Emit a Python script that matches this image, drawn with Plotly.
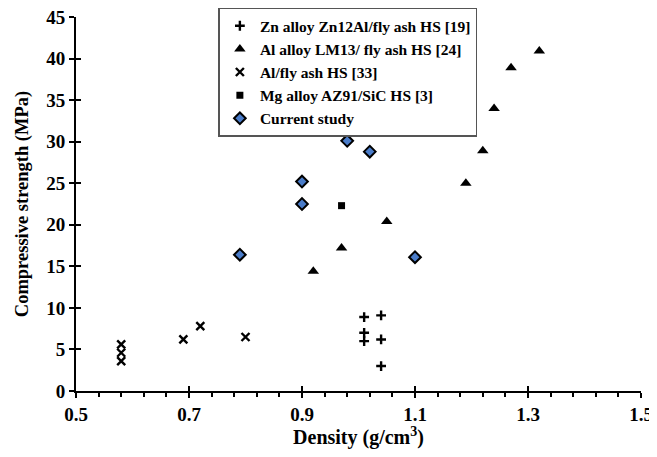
import plotly.graph_objects as go

zn_x = [1.01, 1.01, 1.01, 1.04, 1.04, 1.04]
zn_y = [8.9, 7.0, 6.0, 9.1, 6.2, 3.0]
al13_x = [0.92, 0.97, 1.05, 1.19, 1.22, 1.24, 1.27, 1.32]
al13_y = [14.4, 17.2, 20.4, 25.0, 28.9, 34.0, 38.9, 40.9]
alfa_x = [0.58, 0.58, 0.58, 0.69, 0.72, 0.80]
alfa_y = [5.6, 4.6, 3.6, 6.2, 7.8, 6.5]
mg_x = [0.97]
mg_y = [22.3]
cur_x = [0.79, 0.90, 0.90, 0.98, 1.02, 1.10]
cur_y = [16.4, 25.2, 22.5, 30.1, 28.8, 16.1]

names = ["Zn alloy Zn12Al/fly ash HS [19]", "Al alloy LM13/ fly ash HS [24]",
         "Al/fly ash HS [33]", "Mg alloy AZ91/SiC HS [3]", "Current study"]

FONT = "Liberation Serif"
fig = go.Figure()
fig.add_trace(go.Scatter(x=zn_x, y=zn_y, mode="markers", name="<b>" + names[0] + "</b>",
                         marker=dict(symbol="cross-thin", size=7, line=dict(width=2.4, color="black"), color="black")))
fig.add_trace(go.Scatter(x=al13_x, y=al13_y, mode="markers", name="<b>" + names[1] + "</b>",
                         marker=dict(symbol="triangle-up", size=10, color="black")))
fig.add_trace(go.Scatter(x=alfa_x, y=alfa_y, mode="markers", name="<b>" + names[2] + "</b>",
                         marker=dict(symbol="x-thin", size=8, line=dict(width=2.4, color="black"), color="black")))
fig.add_trace(go.Scatter(x=mg_x, y=mg_y, mode="markers", name="<b>" + names[3] + "</b>",
                         marker=dict(symbol="square", size=7, color="black")))
fig.add_trace(go.Scatter(x=cur_x, y=cur_y, mode="markers", name="<b>" + names[4] + "</b>",
                         marker=dict(symbol="diamond", size=9, color="#4a7cc9", line=dict(width=2, color="black"))))

axfont = dict(family=FONT, size=19, color="black")
fig.update_layout(
    width=649, height=441,
    margin=dict(l=68, r=16, t=9, b=58, autoexpand=False),
    paper_bgcolor="white", plot_bgcolor="white",
    font=dict(family=FONT, color="black"),
    showlegend=True,
    legend=dict(x=0.252, y=1.025, xanchor="left", yanchor="top",
                bordercolor="#555555", borderwidth=1.5, bgcolor="white",
                font=dict(family=FONT, size=15.5, color="black"),
                tracegroupgap=0, itemwidth=30),
    xaxis=dict(range=[0.5, 1.5], tickvals=[0.5, 0.7, 0.9, 1.1, 1.3, 1.5],
               ticktext=["<b>0.5</b>", "<b>0.7</b>", "<b>0.9</b>", "<b>1.1</b>", "<b>1.3</b>", "<b>1.5</b>"],
               ticks="outside", ticklen=5, tickwidth=2, tickcolor="black", ticklabeloverflow="allow",
               minor=dict(dtick=0.04, tick0=0.5, ticks="outside", ticklen=4, tickwidth=1.5, tickcolor="black"),
               showline=True, linecolor="black", linewidth=2, showgrid=False, zeroline=False,
               tickfont=axfont,
               title=dict(text="<b>Density (g/cm<sup>3</sup>)</b>", font=dict(family=FONT, size=20, color="black"), standoff=4)),
    yaxis=dict(range=[0, 45], tickvals=[0, 5, 10, 15, 20, 25, 30, 35, 40, 45],
               ticktext=["<b>%d</b>" % v for v in [0, 5, 10, 15, 20, 25, 30, 35, 40, 45]],
               ticks="outside", ticklen=5, tickwidth=2, tickcolor="black", ticklabeloverflow="allow",
               showline=True, linecolor="black", linewidth=2, showgrid=False, zeroline=False,
               tickfont=axfont,
               title=dict(text="<b>Compressive strength (MPa)</b>", font=dict(family=FONT, size=18.5, color="black"), standoff=13)),
    xaxis2=dict(overlaying="x", range=[0.5, 1.5], tickvals=[0.5, 0.7, 0.9, 1.1, 1.3, 1.5],
                ticks="inside", ticklen=5, tickwidth=2, tickcolor="black", showticklabels=False,
                showgrid=False, zeroline=False, showline=False, side="bottom", anchor="y"),
    yaxis2=dict(overlaying="y", range=[0, 45], tickvals=[0, 5, 10, 15, 20, 25, 30, 35, 40, 45],
                ticks="inside", ticklen=5, tickwidth=2, tickcolor="black", showticklabels=False,
                showgrid=False, zeroline=False, showline=False, side="left", anchor="x"),
)
fig.add_trace(go.Scatter(x=[None], y=[None], xaxis="x2", yaxis="y2", showlegend=False, hoverinfo="skip"))

fig.write_html("out.html")
